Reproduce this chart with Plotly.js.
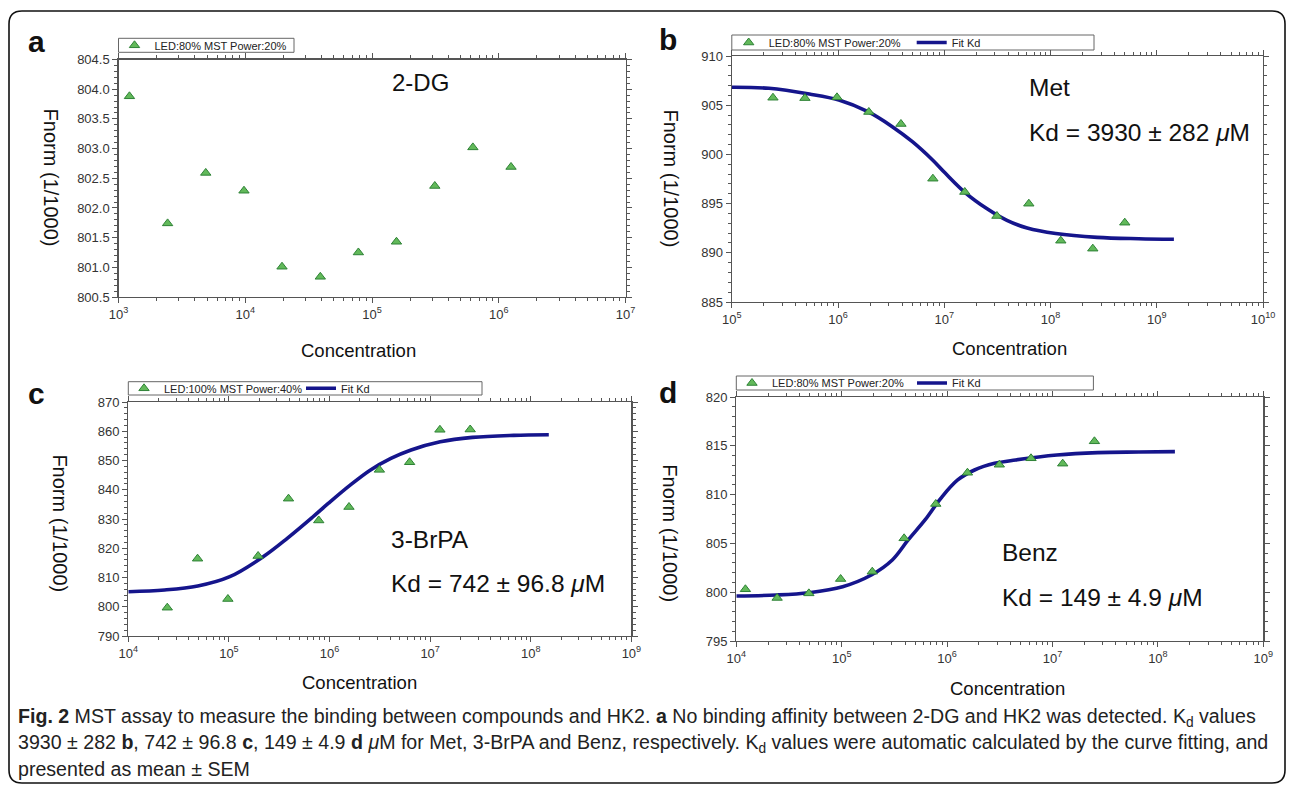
<!DOCTYPE html>
<html><head><meta charset="utf-8">
<script src="https://cdn.plot.ly/plotly-3.0.1.min.js"></script>
<style>html,body{margin:0;padding:0;background:#fff}#chart{width:1290px;height:787px}</style>
</head><body><div id="chart"></div>
<script>
// ---------- data ----------
// Panel a: 2-DG (no fit)
const concA  = [1.22e3, 2.44e3, 4.88e3, 9.77e3, 1.95e4, 3.91e4, 7.81e4, 1.56e5, 3.13e5, 6.25e5, 1.25e6];
const fnormA = [803.88, 801.74, 802.59, 802.29, 801.01, 800.84, 801.25, 801.43, 802.37, 803.02, 802.69];
// Panel b: Met
const concB  = [2.44e5, 4.88e5, 9.77e5, 1.95e6, 3.91e6, 7.81e6, 1.56e7, 3.13e7, 6.25e7, 1.25e8, 2.5e8, 5e8];
const fnormB = [905.76, 905.72, 905.80, 904.31, 903.09, 897.53, 896.18, 893.74, 894.99, 891.23, 890.42, 893.06];
const fitConcB = [1e5, 2.24e5, 5.37e5, 1.02e6, 1.91e6, 3.24e6, 5.01e6, 7.76e6, 1.02e7, 1.58e7, 2.51e7, 3.89e7, 6.03e7, 1.12e8, 2.75e8, 6.76e8, 1.45e9];
const fitB     = [906.82, 906.72, 906.14, 905.53, 904.34, 902.82, 901.29, 899.43, 898.10, 896.10, 894.50, 893.30, 892.52, 891.96, 891.57, 891.43, 891.37];
// Panel c: 3-BrPA
const concC  = [2.44e4, 4.88e4, 9.77e4, 1.95e5, 3.91e5, 7.81e5, 1.56e6, 3.13e6, 6.25e6, 1.25e7, 2.5e7];
const fnormC = [799.68, 816.43, 802.65, 817.35, 836.95, 829.50, 834.10, 846.80, 849.40, 860.50, 860.60];
const fitConcC = [1e4, 2.29e4, 4.9e4, 1.02e5, 2.19e5, 3.8e5, 6.76e5, 9.77e5, 1.58e6, 2.51e6, 4.07e6, 6.46e6, 1.26e7, 2.63e7, 6.76e7, 1.51e8];
const fitC     = [805.15, 805.73, 807.09, 810.28, 817.10, 823.40, 830.60, 835.40, 841.40, 846.60, 850.70, 853.60, 856.40, 857.90, 858.60, 858.80];
// Panel d: Benz
const concD  = [1.22e4, 2.44e4, 4.88e4, 9.77e4, 1.95e5, 3.91e5, 7.81e5, 1.56e6, 3.13e6, 6.25e6, 1.25e7, 2.5e7];
const fnormD = [800.30, 799.41, 799.88, 801.35, 802.10, 805.52, 809.04, 812.24, 813.06, 813.72, 813.17, 815.46];
const fitConcD = [1e4, 2.4e4, 4.9e4, 1.02e5, 1.91e5, 3.02e5, 4.27e5, 6.17e5, 8.71e5, 1.26e6, 1.82e6, 2.82e6, 4.47e6, 1.1e7, 2.69e7, 6.61e7, 1.45e8];
const fitD     = [799.61, 799.71, 799.95, 800.56, 801.76, 803.30, 805.35, 807.40, 809.62, 811.50, 812.52, 813.20, 813.55, 814.06, 814.30, 814.36, 814.40];

// tick labels
const xTickValsA = [1e3, 1e4, 1e5, 1e6, 1e7];
const xTickTextA = ['10<sup>3</sup>', '10<sup>4</sup>', '10<sup>5</sup>', '10<sup>6</sup>', '10<sup>7</sup>'];
const xTickValsB = [1e5, 1e6, 1e7, 1e8, 1e9, 1e10];
const xTickTextB = ['10<sup>5</sup>', '10<sup>6</sup>', '10<sup>7</sup>', '10<sup>8</sup>', '10<sup>9</sup>', '10<sup>10</sup>'];
const xTickValsCD = [1e4, 1e5, 1e6, 1e7, 1e8, 1e9];
const xTickTextCD = ['10<sup>4</sup>', '10<sup>5</sup>', '10<sup>6</sup>', '10<sup>7</sup>', '10<sup>8</sup>', '10<sup>9</sup>'];

// legend / text labels
const seriesNameAB = 'LED:80% MST Power:20%';
const seriesNameC  = 'LED:100% MST Power:40%';
const fitName = 'Fit Kd';
const compounds = ['2-DG', 'Met', '3-BrPA', 'Benz'];
const kdTexts = ['Kd = 3930 ± 282 <i>μ</i>M', 'Kd = 742 ± 96.8 <i>μ</i>M', 'Kd = 149 ± 4.9 <i>μ</i>M'];

// ---------- styling helpers ----------
const W = 1290, H = 787;
const FONT = 'Liberation Sans, Arial, sans-serif';
const AXC = '#555';
const px = x => x / W;
const py = y => 1 - y / H;

function minorLogVals(vals) {
  const out = [];
  for (let i = 0; i < vals.length - 1; i++) for (let m = 2; m <= 9; m++) out.push(m * vals[i]);
  return out;
}
function xAxis(domPx, anchor, tv, tt, dir, overlay) {
  const ax = {
    type: 'log', anchor: anchor, range: [Math.log10(tv[0]), Math.log10(tv[tv.length - 1])],
    showgrid: false, zeroline: false, showline: true, linecolor: AXC, linewidth: 1.2, mirror: 'allticks',
    ticks: dir, ticklen: 5, tickwidth: 1, tickcolor: AXC,
    tickmode: 'array', tickvals: tv, ticktext: tt, showticklabels: !overlay,
    tickfont: { family: FONT, size: 13, color: '#333' },
    minor: { tickmode: 'array', tickvals: minorLogVals(tv), ticks: dir, ticklen: 3, tickwidth: 1, tickcolor: AXC },
    fixedrange: true
  };
  if (overlay) ax.overlaying = overlay; else ax.domain = [px(domPx[0]), px(domPx[1])];
  return ax;
}
function yAxis(domPx, anchor, range, dtick, minorD, fmt, dir, overlay) {
  const ax = {
    anchor: anchor, range: range, showgrid: false, zeroline: false, showline: true, linecolor: AXC, linewidth: 1.2,
    mirror: 'allticks', ticks: dir, ticklen: 5, tickwidth: 1, tickcolor: AXC,
    tickmode: 'linear', tick0: range[0], dtick: dtick, tickformat: fmt, showticklabels: !overlay,
    tickfont: { family: FONT, size: 13, color: '#333' },
    minor: { dtick: minorD, tick0: range[0], ticks: dir, ticklen: 3, tickwidth: 1, tickcolor: AXC },
    fixedrange: true
  };
  if (overlay) ax.overlaying = overlay; else ax.domain = [py(domPx[1]), py(domPx[0])];
  return ax;
}

// panel plot areas in px
const PA = { x: [118.5, 625.5], y: [59.5, 297] };
const PB = { x: [731.8, 1263], y: [56, 302] };
const PC = { x: [128.3, 631.4], y: [402, 636] };
const PD = { x: [736.3, 1263.3], y: [397, 641] };

const mk = { symbol: 'triangle-up', size: 9, color: '#62b95a', line: { color: '#2e8236', width: 1 } };
const ln = { color: '#15158c', width: 3.6, shape: 'spline', smoothing: 1 };

const traces = [
  { x: concA, y: fnormA, xaxis: 'x', yaxis: 'y', mode: 'markers', marker: mk, name: seriesNameAB, legend: 'legend', legendrank: 1 },
  { x: fitConcB, y: fitB, xaxis: 'x2', yaxis: 'y2', mode: 'lines', line: ln, name: fitName, legend: 'legend2', legendrank: 2 },
  { x: concB, y: fnormB, xaxis: 'x2', yaxis: 'y2', mode: 'markers', marker: mk, name: seriesNameAB, legend: 'legend2', legendrank: 1 },
  { x: fitConcC, y: fitC, xaxis: 'x3', yaxis: 'y3', mode: 'lines', line: ln, name: fitName, legend: 'legend3', legendrank: 2 },
  { x: concC, y: fnormC, xaxis: 'x3', yaxis: 'y3', mode: 'markers', marker: mk, name: seriesNameC, legend: 'legend3', legendrank: 1 },
  { x: fitConcD, y: fitD, xaxis: 'x4', yaxis: 'y4', mode: 'lines', line: ln, name: fitName, legend: 'legend4', legendrank: 2 },
  { x: concD, y: fnormD, xaxis: 'x4', yaxis: 'y4', mode: 'markers', marker: mk, name: seriesNameAB, legend: 'legend4', legendrank: 1 }
];

function legendAt(leftPx, midPx, entry) {
  return { x: px(leftPx), y: py(midPx), xanchor: 'left', yanchor: 'middle', orientation: 'h',
    bgcolor: 'rgba(0,0,0,0)', borderwidth: 0, font: { family: FONT, size: 11, color: '#222' },
    entrywidth: entry, entrywidthmode: 'pixels', itemclick: false, itemdoubleclick: false };
}
function boxShape(x0, x1, y0, y1) {
  return { type: 'rect', xref: 'paper', yref: 'paper', x0: px(x0), x1: px(x1), y0: py(y1), y1: py(y0),
    line: { color: '#666', width: 1 }, fillcolor: 'rgba(0,0,0,0)', layer: 'below' };
}
function ann(text, xPx, yPx, size, opts) {
  return Object.assign({ text: text, x: px(xPx), y: py(yPx), xref: 'paper', yref: 'paper', showarrow: false,
    xanchor: 'left', yanchor: 'middle', font: { family: FONT, size: size, color: '#111' } }, opts || {});
}

// rounded outer frame
const L = 9, R = 1285, T = 11, B = 783, r = 13;
const framePath = [
  'M', px(L + r), py(T), 'L', px(R - r), py(T), 'Q', px(R), py(T), px(R), py(T + r),
  'L', px(R), py(B - r), 'Q', px(R), py(B), px(R - r), py(B),
  'L', px(L + r), py(B), 'Q', px(L), py(B), px(L), py(B - r),
  'L', px(L), py(T + r), 'Q', px(L), py(T), px(L + r), py(T), 'Z'
].join(' ');

const capStyle = { family: FONT, size: 19.6, color: '#222' };

const layout = {
  width: W, height: H, margin: { l: 0, r: 0, t: 0, b: 0 },
  paper_bgcolor: '#fff', plot_bgcolor: '#fff', showlegend: true,
  font: { family: FONT, color: '#222' },
  xaxis:  xAxis(PA.x, 'y',  xTickValsA, xTickTextA, 'outside'),
  yaxis:  yAxis(PA.y, 'x',  [800.5, 804.5], 0.5, 0.1, '.1f', 'outside'),
  xaxis2: xAxis(PB.x, 'y2', xTickValsB, xTickTextB, 'outside'),
  yaxis2: yAxis(PB.y, 'x2', [885, 910], 5, 1, 'd', 'outside'),
  xaxis3: xAxis(PC.x, 'y3', xTickValsCD, xTickTextCD, 'outside'),
  yaxis3: yAxis(PC.y, 'x3', [790, 870], 10, 2, 'd', 'outside'),
  xaxis4: xAxis(PD.x, 'y4', xTickValsCD, xTickTextCD, 'outside'),
  yaxis4: yAxis(PD.y, 'x4', [795, 820], 5, 1, 'd', 'outside'),
  // overlay axes add the inner half of each tick, so ticks cross the frame as in the reference
  xaxis5: xAxis(PA.x, 'y',  xTickValsA, xTickTextA, 'inside', 'x'),
  yaxis5: yAxis(PA.y, 'x',  [800.5, 804.5], 0.5, 0.1, '.1f', 'inside', 'y'),
  xaxis6: xAxis(PB.x, 'y2', xTickValsB, xTickTextB, 'inside', 'x2'),
  yaxis6: yAxis(PB.y, 'x2', [885, 910], 5, 1, 'd', 'inside', 'y2'),
  xaxis7: xAxis(PC.x, 'y3', xTickValsCD, xTickTextCD, 'inside', 'x3'),
  yaxis7: yAxis(PC.y, 'x3', [790, 870], 10, 2, 'd', 'inside', 'y3'),
  xaxis8: xAxis(PD.x, 'y4', xTickValsCD, xTickTextCD, 'inside', 'x4'),
  yaxis8: yAxis(PD.y, 'x4', [795, 820], 5, 1, 'd', 'inside', 'y4'),
  legend:  legendAt(114.5, 45.3, 170),
  legend2: legendAt(728.7, 42.5, 138),
  legend3: legendAt(124, 388.3, 132),
  legend4: legendAt(732, 383, 135),
  shapes: [
    { type: 'path', xref: 'paper', yref: 'paper', path: framePath, line: { color: '#111', width: 1.6 } },
    boxShape(118.5, 294, 38.3, 52.3),
    boxShape(731.8, 1094, 35, 50),
    boxShape(128.3, 482, 381.7, 395),
    boxShape(736.3, 1093.4, 376, 390)
  ],
  annotations: [
    ann('<b>a</b>', 36.5, 42, 30, { xanchor: 'center' }),
    ann('<b>b</b>', 667.6, 40, 30, { xanchor: 'center' }),
    ann('<b>c</b>', 36.5, 393, 30, { xanchor: 'center' }),
    ann('<b>d</b>', 667.6, 392, 30, { xanchor: 'center' }),
    ann(compounds[0], 390, 83, 24),
    ann(compounds[1], 1027, 87, 24.5),
    ann(kdTexts[0], 1027, 132, 24.5),
    ann(compounds[2], 388.7, 539, 24.5),
    ann(kdTexts[1], 388.7, 583, 24.5),
    ann(compounds[3], 999.6, 552, 24.5),
    ann(kdTexts[2], 999.6, 597, 24.5),
    ann('Fnorm (1/1000)', 51.4, 178, 20, { xanchor: 'center', textangle: 90 }),
    ann('Fnorm (1/1000)', 670.5, 178, 20, { xanchor: 'center', textangle: 90 }),
    ann('Fnorm (1/1000)', 59.6, 523, 20, { xanchor: 'center', textangle: 90 }),
    ann('Fnorm (1/1000)', 669.7, 533, 20, { xanchor: 'center', textangle: 90 }),
    ann('Concentration', 358, 350, 18.5, { xanchor: 'center' }),
    ann('Concentration', 1009, 349, 18.5, { xanchor: 'center' }),
    ann('Concentration', 359, 682, 18.5, { xanchor: 'center' }),
    ann('Concentration', 1007, 688, 18.5, { xanchor: 'center' }),
    ann('<b>Fig. 2</b> MST assay to measure the binding between compounds and HK2. <b>a</b> No binding affinity between 2-DG and HK2 was detected. K<sub>d</sub> values', 16, 717, 19.6, { font: capStyle }),
    ann('3930 ± 282 <b>b</b>, 742 ± 96.8 <b>c</b>, 149 ± 4.9 <b>d</b> <i>μ</i>M for Met, 3-BrPA and Benz, respectively. K<sub>d</sub> values were automatic calculated by the curve fitting, and', 16, 743, 19.6, { font: capStyle }),
    ann('presented as mean ± SEM', 16, 769, 19.6, { font: capStyle })
  ]
};

Plotly.newPlot('chart', traces, layout, { staticPlot: true, displayModeBar: false });
</script>
</body></html>
